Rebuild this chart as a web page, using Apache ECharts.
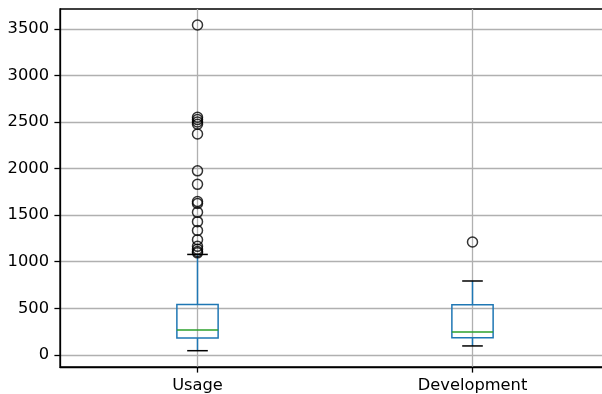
<!DOCTYPE html>
<html>
<head>
<meta charset="utf-8">
<script src="https://cdn.jsdelivr.net/npm/echarts@6/dist/echarts.min.js"></script>
<style>
  html, body { margin: 0; padding: 0; background: #fff; }
  #chart { width: 602px; height: 394px; }
</style>
</head>
<body>
<div id="chart"></div>
<script>
// Box statistics per group
const categories = ['Usage', 'Development'];
const lowerWhisker = [45, 96];
const q1 = [180, 185];
const median = [268, 246];
const q3 = [540, 539];
const upperWhisker = [1078, 793];

// Points beyond the whiskers
const usageOutliers = [3540, 2550, 2525, 2500, 2475, 2370, 1975, 1830, 1645, 1625,
                       1530, 1430, 1335, 1235, 1165, 1135, 1110, 1095];
const developmentOutliers = [1211];

const yTicks = [0, 500, 1000, 1500, 2000, 2500, 3000, 3500];

const BOX_BLUE = '#1f77b4';
const MEDIAN_GREEN = '#2ca02c';
const GRID_GREY = '#b0b0b0';
const BOX_WIDTH = 0.15;
const CAP_WIDTH = BOX_WIDTH / 2;

const boxData = categories.map((c, i) => [i + 1, lowerWhisker[i], q1[i], median[i], q3[i], upperWhisker[i]]);
const outlierData = [];
usageOutliers.forEach(v => outlierData.push([1, v]));
developmentOutliers.forEach(v => outlierData.push([2, v]));

function renderBox(params, api) {
  const x = api.value(0);
  const lw = api.value(1), a = api.value(2), m = api.value(3), b = api.value(4), uw = api.value(5);
  const p = (xx, yy) => api.coord([xx, yy]);
  const boxL = p(x - BOX_WIDTH / 2, b), boxR = p(x + BOX_WIDTH / 2, a);
  const line = (v1, v2, color) => ({
    type: 'line',
    shape: { x1: v1[0], y1: v1[1], x2: v2[0], y2: v2[1] },
    style: { stroke: color, lineWidth: 1.5 }
  });
  return {
    type: 'group',
    children: [
      // whiskers
      line(p(x, a), p(x, lw), BOX_BLUE),
      line(p(x, b), p(x, uw), BOX_BLUE),
      // caps
      line(p(x - CAP_WIDTH / 2, lw), p(x + CAP_WIDTH / 2, lw), '#000'),
      line(p(x - CAP_WIDTH / 2, uw), p(x + CAP_WIDTH / 2, uw), '#000'),
      // box
      {
        type: 'rect',
        shape: { x: boxL[0], y: boxL[1], width: boxR[0] - boxL[0], height: boxR[1] - boxL[1] },
        style: { fill: 'none', stroke: BOX_BLUE, lineWidth: 1.5 }
      },
      // median
      line(p(x - BOX_WIDTH / 2, m), p(x + BOX_WIDTH / 2, m), MEDIAN_GREEN)
    ]
  };
}

const chart = echarts.init(document.getElementById('chart'), null, { renderer: 'canvas' });
const font = { fontFamily: 'DejaVu Sans', fontSize: 16.3, color: '#000' };

chart.setOption({
  animation: false,
  backgroundColor: '#fff',
  grid: {
    left: 60, top: 9, width: 550, height: 358,
    containLabel: false,
    outerBoundsMode: 'none',
    show: true, borderColor: '#000', borderWidth: 1.3, backgroundColor: 'transparent'
  },
  xAxis: {
    type: 'value',
    min: 0.5, max: 2.5,
    axisLine: { show: true, onZero: false, lineStyle: { color: '#000', width: 1.3 } },
    axisTick: { show: true, customValues: [1, 2], length: 5.6, lineStyle: { color: '#000', width: 1.3 } },
    axisLabel: Object.assign({ customValues: [1, 2], margin: 11, formatter: v => categories[Math.round(v) - 1] }, font),
    splitLine: { show: true, lineStyle: { color: GRID_GREY, width: 1.3 } }
  },
  yAxis: {
    type: 'value',
    min: -130, max: 3712,
    axisLine: { show: true, onZero: false, lineStyle: { color: '#000', width: 1.3 } },
    axisTick: { show: true, customValues: yTicks, length: 5.6, lineStyle: { color: '#000', width: 1.3 } },
    axisLabel: Object.assign({ customValues: yTicks, margin: 11, formatter: v => String(v) }, font),
    splitLine: { show: true, lineStyle: { color: GRID_GREY, width: 1.3 } }
  },
  series: [
    {
      type: 'custom',
      renderItem: renderBox,
      data: boxData,
      z: 3
    },
    {
      type: 'scatter',
      data: outlierData,
      symbol: 'circle',
      symbolSize: 10,
      itemStyle: { color: 'rgba(0,0,0,0)', borderColor: '#000', borderWidth: 1.5 },
      z: 4
    }
  ]
});
</script>
</body>
</html>
